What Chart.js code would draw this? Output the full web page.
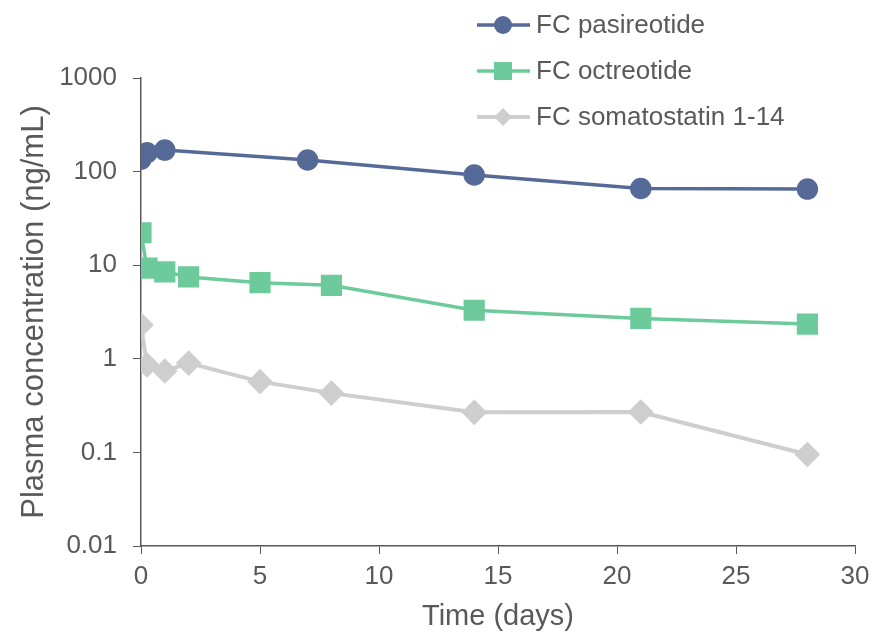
<!DOCTYPE html>
<html>
<head>
<meta charset="utf-8">
<script src="https://cdn.jsdelivr.net/npm/chart.js@4.4.1/dist/chart.umd.min.js"></script>
<style>
  html, body { margin: 0; padding: 0; background: #ffffff; }
  canvas { display: block; }
</style>
</head>
<body>
<canvas id="grafica" width="878" height="634"></canvas>
<script>
// Datos (días, ng/mL)
const diasPasireotida = [0, 0.25, 1, 7, 14, 21, 28];
const pasireotida = [136, 159, 170, 133, 92, 66, 65];

const diasOctreotida = [0, 0.25, 1, 2, 5, 8, 14, 21, 28];
const octreotida = [22.2, 9.3, 8.5, 7.5, 6.5, 6.1, 3.3, 2.7, 2.35];

const diasSomatostatina = [0, 0.25, 1, 2, 5, 8, 14, 21, 28];
const somatostatina = [2.3, 0.86, 0.74, 0.9, 0.57, 0.43, 0.268, 0.27, 0.095];

const etiquetasY = [0.01, 0.1, 1, 10, 100, 1000];
const etiquetasX = [0, 5, 10, 15, 20, 25, 30];

const nombres = ['FC pasireotide', 'FC octreotide', 'FC somatostatin 1-14'];

const GRIS = '#595959';
const FUENTE = 'Arial, "Liberation Sans", sans-serif';

function puntos(xs, ys) {
  return xs.map((x, i) => ({ x: x, y: ys[i] }));
}

// Leyenda vertical dibujada a mano (arriba a la derecha)
const leyenda = {
  id: 'leyenda',
  afterDraw(chart) {
    const ctx = chart.ctx;
    const filasY = [25, 71, 117];
    chart.data.datasets.forEach((ds, i) => {
      const y = filasY[i];
      ctx.save();
      ctx.strokeStyle = ds.borderColor;
      ctx.lineWidth = ds.borderWidth;
      ctx.beginPath();
      ctx.moveTo(477, y);
      ctx.lineTo(530, y);
      ctx.stroke();
      ctx.fillStyle = ds.borderColor;
      ctx.beginPath();
      if (ds.pointStyle === 'circle') {
        ctx.arc(503, y, 9, 0, Math.PI * 2);
      } else if (ds.pointStyle === 'rect') {
        ctx.rect(503 - 9, y - 9, 18, 18);
      } else {
        ctx.moveTo(503, y - 9);
        ctx.lineTo(512, y);
        ctx.lineTo(503, y + 9);
        ctx.lineTo(494, y);
        ctx.closePath();
      }
      ctx.fill();
      ctx.fillStyle = GRIS;
      ctx.font = '26px ' + FUENTE;
      ctx.textBaseline = 'middle';
      ctx.textAlign = 'left';
      ctx.fillText(ds.label, 536, y + 1);
      ctx.restore();
    });
  }
};

const ctx = document.getElementById('grafica').getContext('2d');

new Chart(ctx, {
  type: 'line',
  data: {
    datasets: [
      {
        label: nombres[0],
        data: puntos(diasPasireotida, pasireotida),
        borderColor: '#566A97',
        backgroundColor: '#566A97',
        borderWidth: 3.5,
        pointStyle: 'circle',
        pointRadius: 9,
        pointHoverRadius: 9
      },
      {
        label: nombres[1],
        data: puntos(diasOctreotida, octreotida),
        borderColor: '#6DCA9B',
        backgroundColor: '#6DCA9B',
        borderWidth: 3.5,
        pointStyle: 'rect',
        pointRadius: 12.5,
        pointHoverRadius: 12.5
      },
      {
        label: nombres[2],
        data: puntos(diasSomatostatina, somatostatina),
        borderColor: '#CDCECD',
        backgroundColor: '#CDCECD',
        borderWidth: 4,
        pointStyle: 'rectRot',
        pointRadius: 10,
        pointHoverRadius: 10
      }
    ]
  },
  options: {
    responsive: false,
    devicePixelRatio: 1,
    animation: false,
    layout: { padding: { top: 78, right: 23, bottom: 0, left: 0 } },
    plugins: {
      legend: { display: false },
      tooltip: { enabled: false }
    },
    scales: {
      x: {
        type: 'linear',
        min: 0,
        max: 30,
        afterBuildTicks(scale) {
          scale.ticks = etiquetasX.map(v => ({ value: v }));
        },
        afterFit(scale) { scale.height = 88; },
        grid: { drawOnChartArea: false, drawTicks: true, tickLength: 8, color: GRIS, tickColor: GRIS },
        border: { display: true, color: GRIS, width: 1.5 },
        ticks: { color: GRIS, font: { size: 26, family: FUENTE }, padding: 7, maxRotation: 0 },
        title: {
          display: true,
          text: 'Time (days)',
          color: GRIS,
          font: { size: 29, family: FUENTE },
          padding: { top: 0, bottom: 0 }
        }
      },
      y: {
        type: 'logarithmic',
        min: 0.01,
        max: 1000,
        afterBuildTicks(scale) {
          scale.ticks = etiquetasY.map(v => ({ value: v }));
        },
        afterFit(scale) { scale.width = 141; },
        grid: { drawOnChartArea: false, drawTicks: true, tickLength: 8, color: GRIS, tickColor: GRIS },
        border: { display: true, color: GRIS, width: 1.5 },
        ticks: {
          color: GRIS,
          font: { size: 26, family: FUENTE },
          padding: 16,
          callback: v => String(v)
        },
        title: {
          display: true,
          text: 'Plasma concentration (ng/mL)',
          color: GRIS,
          font: { size: 31, family: FUENTE },
          padding: { top: 16, bottom: 0 }
        }
      }
    }
  },
  plugins: [leyenda]
});
</script>
</body>
</html>
